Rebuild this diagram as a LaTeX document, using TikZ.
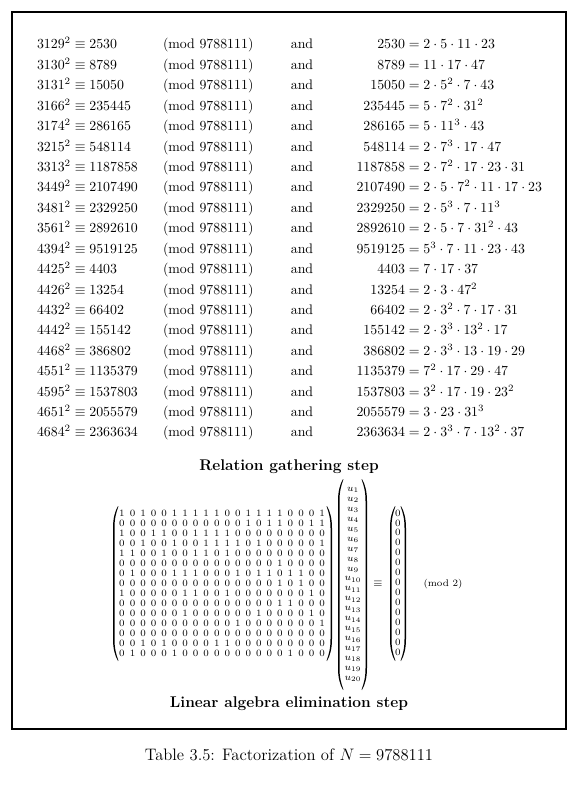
\documentclass[tikz,border=0pt]{standalone}
\usepackage{amsmath}
% hand-drawn tall parentheses: #1 = outer x, #2 = top y, #3 = bottom y
\newcommand\lpar[3]{%
  \fill[parfill] (#1+5,#2) .. controls (#1+1.6,#2+6) and (#1,#2+13) .. (#1,#2+22)
    -- (#1,#3-22) .. controls (#1,#3-13) and (#1+1.6,#3-6) .. (#1+5,#3)
    -- (#1+5.4,#3-0.5) .. controls (#1+2.9,#3-7) and (#1+1.5,#3-13) .. (#1+1.5,#3-22)
    -- (#1+1.5,#2+22) .. controls (#1+1.5,#2+13) and (#1+2.9,#2+7) .. (#1+5.4,#2+0.5) -- cycle;}
\newcommand\rpar[3]{%
  \fill[parfill] (#1-5,#2) .. controls (#1-1.6,#2+6) and (#1,#2+13) .. (#1,#2+22)
    -- (#1,#3-22) .. controls (#1,#3-13) and (#1-1.6,#3-6) .. (#1-5,#3)
    -- (#1-5.4,#3-0.5) .. controls (#1-2.9,#3-7) and (#1-1.5,#3-13) .. (#1-1.5,#3-22)
    -- (#1-1.5,#2+22) .. controls (#1-1.5,#2+13) and (#1-2.9,#2+7) .. (#1-5.4,#2+0.5) -- cycle;}
\tikzset{
  txt/.style={inner sep=0pt, outer sep=0pt, font=\fontsize{10}{12}\selectfont},
  dig/.style={inner sep=0pt, outer sep=0pt, font=\scriptsize},
  head/.style={inner sep=0pt, outer sep=0pt, font=\fontsize{11.2}{13}\selectfont\bfseries},
  parfill/.style={fill=black},
  frame/.style={draw=black, line width=0.75pt},
}
\begin{document}
\begin{tikzpicture}[x=0.722pt, y=-0.722pt]
\path[use as bounding box, fill=white] (0,0) rectangle (578,788);
\draw[frame] (12,12) rectangle (566,729);
% relation gathering
\foreach \b/\res/\fac [count=\i] in {
 3129/2530/{2\cdot5\cdot11\cdot23},
 3130/8789/{11\cdot17\cdot47},
 3131/15050/{2\cdot5^2\cdot7\cdot43},
 3166/235445/{5\cdot7^2\cdot31^2},
 3174/286165/{5\cdot11^3\cdot43},
 3215/548114/{2\cdot7^3\cdot17\cdot47},
 3313/1187858/{2\cdot7^2\cdot17\cdot23\cdot31},
 3449/2107490/{2\cdot5\cdot7^2\cdot11\cdot17\cdot23},
 3481/2329250/{2\cdot5^3\cdot7\cdot11^3},
 3561/2892610/{2\cdot5\cdot7\cdot31^2\cdot43},
 4394/9519125/{5^3\cdot7\cdot11\cdot23\cdot43},
 4425/4403/{7\cdot17\cdot37},
 4426/13254/{2\cdot3\cdot47^2},
 4432/66402/{2\cdot3^2\cdot7\cdot17\cdot31},
 4442/155142/{2\cdot3^3\cdot13^2\cdot17},
 4468/386802/{2\cdot3^3\cdot13\cdot19\cdot29},
 4551/1135379/{7^2\cdot17\cdot29\cdot47},
 4595/1537803/{3^2\cdot17\cdot19\cdot23^2},
 4651/2055579/{3\cdot23\cdot31^3},
 4684/2363634/{2\cdot3^3\cdot7\cdot13^2\cdot37}}
{
  \pgfmathsetmacro\yy{49+(\i-1)*20.42}
  \node[txt, anchor=base west] (sq-\i) at (37,\yy) {$\b^2\equiv\res$};
  \node[txt, anchor=base west] (md-\i) at (163,\yy) {$(\mathrm{mod}\mkern6mu 9788111)$};
  \node[txt, anchor=base] (and-\i) at (302,\yy) {and};
  \node[txt, anchor=base east] (val-\i) at (405,\yy) {$\res$};
  \node[txt, anchor=base west] (fac-\i) at (405,\yy) {${}=\fac$};
}
\node[head, anchor=base] (h1) at (289,470) {Relation gathering step};
% matrix
\foreach \rowv [count=\r] in {
 {1,0,1,0,0,1,1,1,1,1,0,0,1,1,1,1,0,0,0,1},
 {0,0,0,0,0,0,0,0,0,0,0,0,1,0,1,1,0,0,1,1},
 {1,0,0,1,1,0,0,1,1,1,1,0,0,0,0,0,0,0,0,0},
 {0,0,1,0,0,1,0,0,1,1,1,1,0,1,0,0,0,0,0,1},
 {1,1,0,0,1,0,0,1,1,0,1,0,0,0,0,0,0,0,0,0},
 {0,0,0,0,0,0,0,0,0,0,0,0,0,0,0,1,0,0,0,0},
 {0,1,0,0,0,1,1,1,0,0,0,1,0,1,1,0,1,1,0,0},
 {0,0,0,0,0,0,0,0,0,0,0,0,0,0,0,1,0,1,0,0},
 {1,0,0,0,0,0,1,1,0,0,1,0,0,0,0,0,0,0,1,0},
 {0,0,0,0,0,0,0,0,0,0,0,0,0,0,0,1,1,0,0,0},
 {0,0,0,0,0,0,1,0,0,0,0,0,0,1,0,0,0,0,1,0},
 {0,0,0,0,0,0,0,0,0,0,0,1,0,0,0,0,0,0,0,1},
 {0,0,0,0,0,0,0,0,0,0,0,0,0,0,0,0,0,0,0,0},
 {0,0,1,0,1,0,0,0,0,1,1,0,0,0,0,0,0,0,0,0},
 {0,1,0,0,0,1,0,0,0,0,0,0,0,0,0,0,1,0,0,0}}
{
  \foreach \v [count=\c] in \rowv {
    \node[dig] (m-\r-\c) at ({122+(\c-1)*10.53},{513+(\r-1)*10}) {\v};
  }
}
\lpar{113}{506}{661}
\rpar{332}{506}{661}
% u vector
\foreach \k in {1,...,20} {
  \node[dig] (u-\k) at (353,{490+(\k-1)*9.95}) {$u_{\k}$};
}
\lpar{338}{479}{690}
\rpar{367}{479}{690}
\node[txt, font=\footnotesize] (eq) at (378,584) {$\equiv$};
% zero vector
\foreach \k in {1,...,15} {
  \node[dig] (z-\k) at (398,{513+(\k-1)*9.93}) {0};
}
\lpar{390}{506}{661}
\rpar{406}{506}{661}
\node[dig] (mod2) at (443,584) {(mod 2)};
\node[head, anchor=base] (h2) at (289,707) {Linear algebra elimination step};
\node[txt, font=\fontsize{12}{14}\selectfont, anchor=base] (cap) at (289,760) {Table 3.5: Factorization of $N=9788111$};
\end{tikzpicture}
\end{document}
